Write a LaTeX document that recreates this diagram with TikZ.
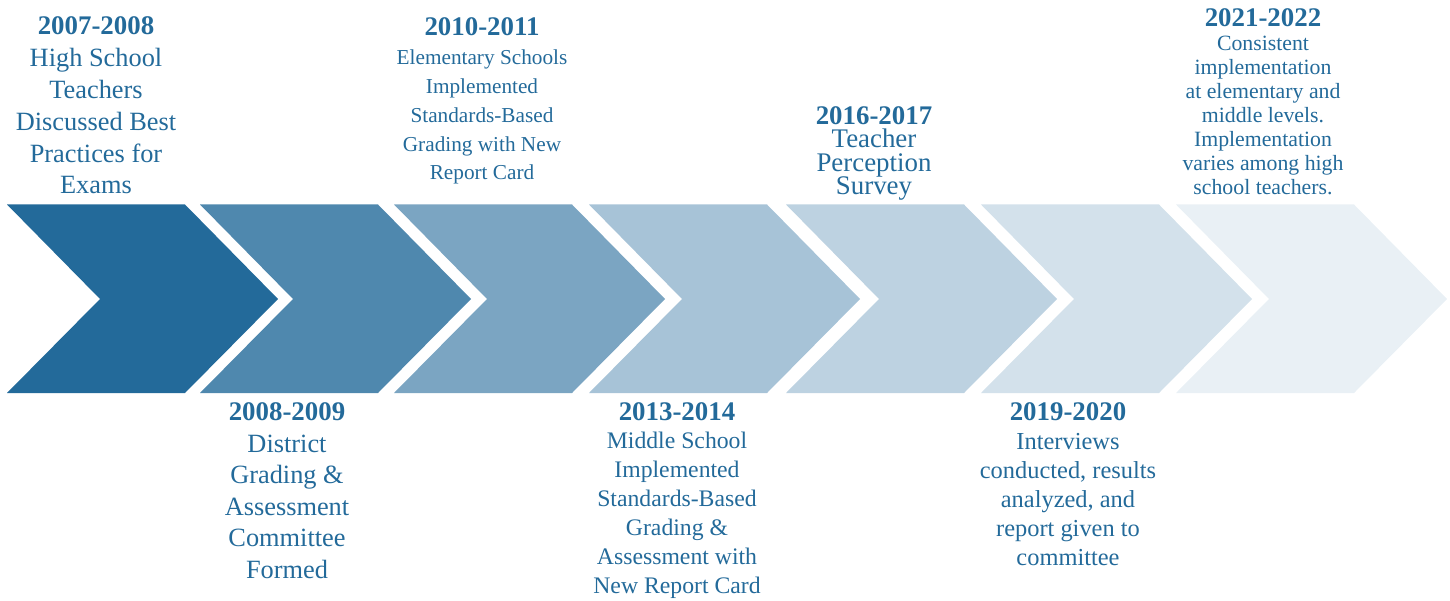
\documentclass[tikz,border=0pt]{standalone}
\usepackage{fontspec}
\setmainfont{Liberation Serif}
\definecolor{evblue}{RGB}{35,106,154}
\newcommand{\evyear}[1]{{\fontsize{15.3}{15.3}\selectfont\bfseries #1}}
\tikzset{evtext/.style={text=evblue, align=center, anchor=base, inner sep=0pt}}

\begin{document}
\begin{tikzpicture}[x=0.02cm, y=-0.02cm]
	\useasboundingbox (0,0) rectangle (1450,601);

	% chevrons
	\fill[evblue] (7,204.5) -- (185,204.5) -- (278,299) -- (185,393) -- (7,393) -- (100,299) -- cycle;
	\fill[evblue!80] (200,204.5) -- (378,204.5) -- (471,299) -- (378,393) -- (200,393) -- (293,299) -- cycle;
	\fill[evblue!60] (394,204.5) -- (572,204.5) -- (665,299) -- (572,393) -- (394,393) -- (487,299) -- cycle;
	\fill[evblue!40] (589,204.5) -- (767,204.5) -- (860,299) -- (767,393) -- (589,393) -- (682,299) -- cycle;
	\fill[evblue!30] (786,204.5) -- (964,204.5) -- (1057,299) -- (964,393) -- (786,393) -- (879,299) -- cycle;
	\fill[evblue!20] (981,204.5) -- (1159,204.5) -- (1252,299) -- (1159,393) -- (981,393) -- (1074,299) -- cycle;
	\fill[evblue!10] (1176,204.5) -- (1354,204.5) -- (1447,299) -- (1354,393) -- (1176,393) -- (1269,299) -- cycle;

	% events above (placed by the base of their last line)
	\node[evtext, font={\fontsize{15}{18.2}\selectfont}] (ev2007) at (96,194)
		{\evyear{2007-2008}\\High School\\Teachers\\Discussed Best\\Practices for\\Exams};
	\node[evtext, font={\fontsize{12.1}{16.5}\selectfont}] (ev2010) at (482,180)
		{\evyear{2010-2011}\\Elementary Schools\\Implemented\\Standards-Based\\Grading with New\\Report Card};
	\node[evtext, font={\fontsize{15.3}{13.4}\selectfont}] (ev2016) at (874,195)
		{\evyear{2016-2017}\\Teacher\\Perception\\Survey};
	\node[evtext, font={\fontsize{12.4}{13.7}\selectfont}] (ev2021) at (1263,195)
		{\evyear{2021-2022}\\Consistent\\implementation\\at elementary and\\middle levels.\\Implementation\\varies among high\\school teachers.};

	% events below
	\node[evtext, font={\fontsize{15}{17.9}\selectfont}] (ev2008) at (287,578)
		{\evyear{2008-2009}\\District\\Grading \&\\Assessment\\Committee\\Formed};
	\node[evtext, font={\fontsize{13.5}{16.4}\selectfont}] (ev2013) at (677,593)
		{\evyear{2013-2014}\\Middle School\\Implemented\\Standards-Based\\Grading \&\\Assessment with\\New Report Card};
	\node[evtext, font={\fontsize{13.9}{16.4}\selectfont}] (ev2019) at (1068,565)
		{\evyear{2019-2020}\\Interviews\\conducted, results\\analyzed, and\\report given to\\committee};
\end{tikzpicture}
\end{document}
